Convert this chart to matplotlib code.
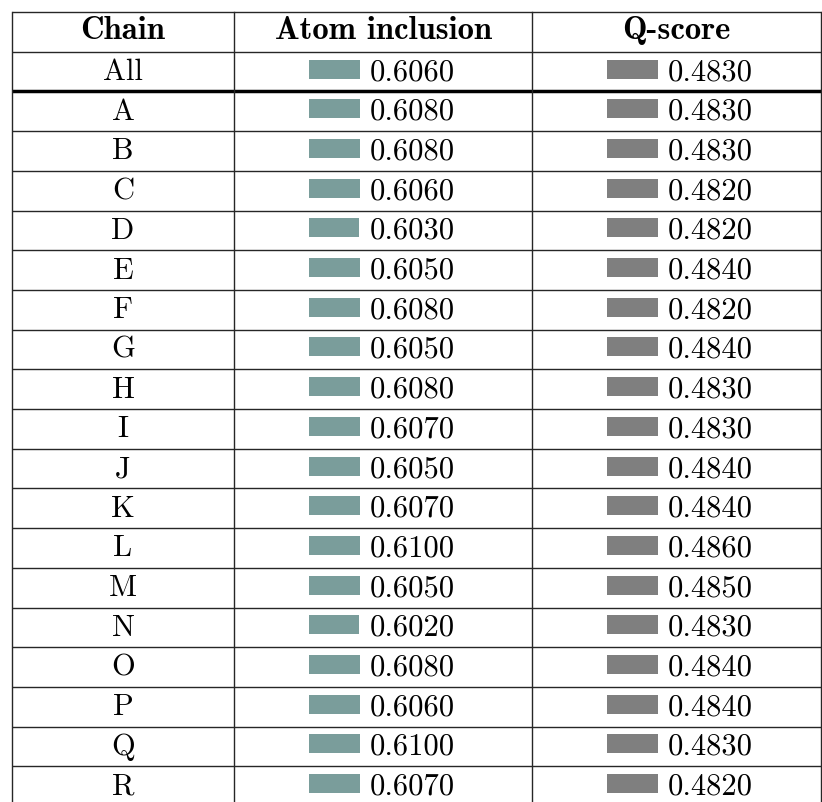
import matplotlib
matplotlib.use("Agg")
import matplotlib.pyplot as plt

chains = ["All", "A", "B", "C", "D", "E", "F", "G", "H", "I", "J",
          "K", "L", "M", "N", "O", "P", "Q", "R"]
atom_inclusion = [0.6060, 0.6080, 0.6080, 0.6060, 0.6030, 0.6050, 0.6080,
                  0.6050, 0.6080, 0.6070, 0.6050, 0.6070, 0.6100, 0.6050,
                  0.6020, 0.6080, 0.6060, 0.6100, 0.6070]
q_score = [0.4830, 0.4830, 0.4830, 0.4820, 0.4820, 0.4840, 0.4820, 0.4840,
           0.4830, 0.4830, 0.4840, 0.4840, 0.4860, 0.4850, 0.4830, 0.4840,
           0.4840, 0.4830, 0.4820]
headers = ["Chain", "Atom inclusion", "Q-score"]

W, H = 822, 802
fig = plt.figure(figsize=(W / 100, H / 100), dpi=100)
ax = fig.add_axes([0, 0, 1, 1])
ax.set_xlim(0, W)
ax.set_ylim(H, 0)
ax.axis("off")

# table geometry in pixels
top = 12
row_h = 39.7
col_x = [12, 234, 532, 821]
bar_left = {1: 309, 2: 607}
bar_w = 51
bar_h = 19
line_col = "#262626"

def row_center(i):
    return top + row_h * (i + 0.5)

# headers (bold)
for j, name in enumerate(headers):
    cx = (col_x[j] + col_x[j + 1]) / 2
    ax.text(cx, row_center(0) + 7.5, name, ha="center", va="baseline",
            family="cmb10", fontsize=23.5)

# body rows
ys = [row_center(i + 1) for i in range(len(chains))]
for y, c in zip(ys, chains):
    ax.text((col_x[0] + col_x[1]) / 2, y + 8.5, c, ha="center", va="baseline",
            family="cmr10", fontsize=22)

columns = [(atom_inclusion, "#7a9d9b", 1), (q_score, "#7f7f7f", 2)]
for vals, color, j in columns:
    left = bar_left[j]
    widths = [v / max(vals) * bar_w for v in vals]
    ax.barh([y - 2.5 for y in ys], widths, height=bar_h, left=left,
            color=color, linewidth=0)
    for y, v in zip(ys, vals):
        ax.text(left + 61, y + 8.5, f"{v:.4f}", ha="left", va="baseline",
                family="cmr10", fontsize=22)

# grid lines
n_rows = len(chains) + 1
bottom = top + row_h * (n_rows + 1)
for i in range(n_rows + 1):
    y = top + row_h * i
    thick = i == 2
    ax.plot([col_x[0], col_x[-1]], [y, y], color="black" if thick else line_col,
            lw=2.5 if thick else 1.0, solid_capstyle="butt")
for x in col_x:
    ax.plot([x, x], [top, bottom], color=line_col, lw=1.0)

fig.savefig("out.png", dpi=100)
